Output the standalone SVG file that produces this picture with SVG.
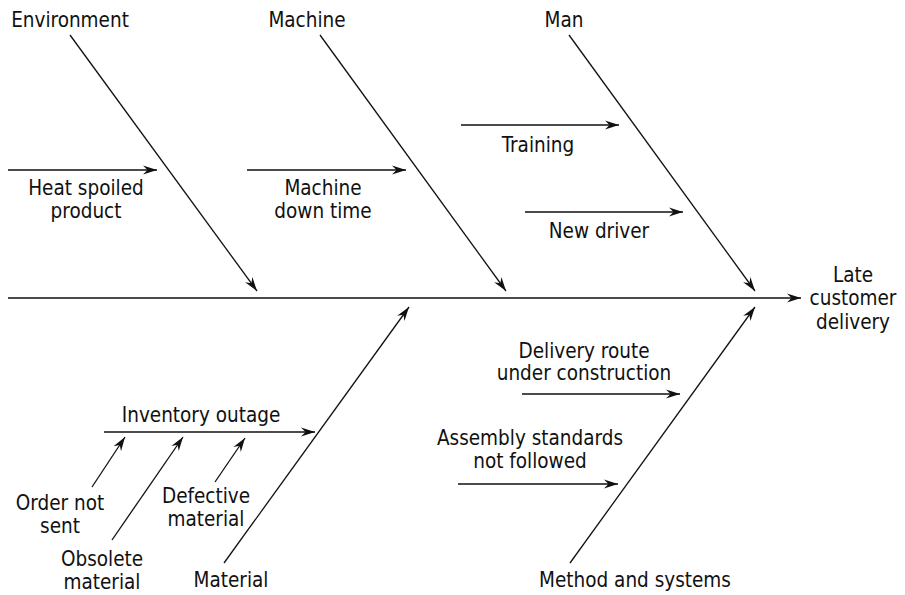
<svg xmlns="http://www.w3.org/2000/svg" width="905" height="595" viewBox="0 0 905 595">
<style>
text{font-family:"DejaVu Sans Condensed","Liberation Sans",Arial,sans-serif;font-size:20.5px;fill:#111;text-anchor:middle}
.c line{stroke:#111;stroke-width:1.3;marker-end:url(#ah)}
</style>
<defs>
<marker id="ah" markerUnits="userSpaceOnUse" markerWidth="16" markerHeight="12" viewBox="-14 -6 16 12" refX="0" refY="0" orient="auto">
<path d="M0,0 L-14,-4.5 L-9.5,0 L-14,4.5 Z" fill="#111"/>
</marker>
</defs>
<rect width="905" height="595" fill="#fff"/>
<g class="c" id="connectors">
<line x1="8" y1="298" x2="801" y2="298"/>
<line x1="70" y1="35" x2="257" y2="291"/>
<line x1="320" y1="35" x2="506" y2="291"/>
<line x1="569" y1="35" x2="755" y2="291"/>
<line x1="224" y1="563" x2="409" y2="307"/>
<line x1="570" y1="563" x2="755" y2="307"/>
<line x1="8" y1="170" x2="157" y2="170"/>
<line x1="247" y1="170" x2="406" y2="170"/>
<line x1="461" y1="125" x2="619" y2="125"/>
<line x1="525" y1="212" x2="683" y2="212"/>
<line x1="522" y1="394" x2="680" y2="394"/>
<line x1="458" y1="484" x2="618" y2="484"/>
<line x1="104" y1="432" x2="315" y2="432"/>
<line x1="92" y1="487" x2="125" y2="437"/>
<line x1="112" y1="540" x2="183" y2="437"/>
<line x1="215" y1="482" x2="245" y2="438"/>
</g>
<g id="effect"><text x="853" y="282">Late</text><text x="853" y="305">customer</text><text x="853" y="329">delivery</text></g>
<g id="environment"><text x="70" y="27">Environment</text></g>
<g id="machine"><text x="307" y="27">Machine</text></g>
<g id="man"><text x="564" y="27">Man</text></g>
<g id="material"><text x="231" y="587">Material</text></g>
<g id="method"><text x="635" y="587">Method and systems</text></g>
<g id="heat"><text x="86" y="195">Heat spoiled</text><text x="86" y="218">product</text></g>
<g id="downtime"><text x="323" y="195">Machine</text><text x="323" y="218">down time</text></g>
<g id="training"><text x="538" y="152">Training</text></g>
<g id="newdriver"><text x="599" y="238">New driver</text></g>
<g id="route"><text x="584" y="358">Delivery route</text><text x="584" y="380">under construction</text></g>
<g id="assembly"><text x="530" y="445">Assembly standards</text><text x="530" y="468">not followed</text></g>
<g id="inventory"><text x="201" y="422">Inventory outage</text></g>
<g id="order"><text x="60" y="510">Order not</text><text x="60" y="533">sent</text></g>
<g id="obsolete"><text x="102" y="566">Obsolete</text><text x="102" y="589">material</text></g>
<g id="defective"><text x="206" y="503">Defective</text><text x="206" y="526">material</text></g>
</svg>
